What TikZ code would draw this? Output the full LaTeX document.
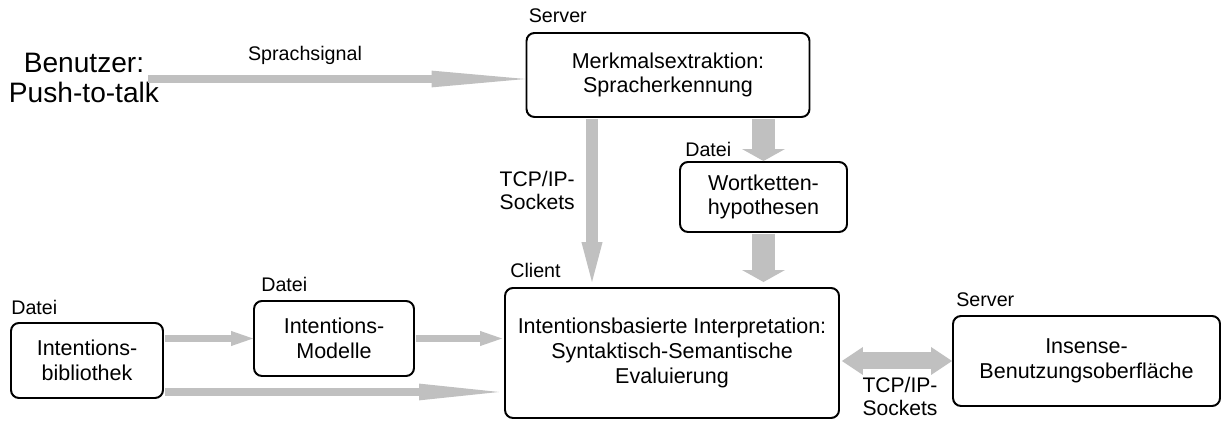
\documentclass[tikz,border=0pt]{standalone}
\usepackage{fontspec}
\setmainfont{Liberation Sans}
\usetikzlibrary{arrows.meta, positioning, calc}
\definecolor{pfeilgrau}{HTML}{C0C0C0}

\begin{document}
\begin{tikzpicture}[
  kasten/.style={draw=black, line width=1.4pt, rounded corners=0.2cm, align=center,
                 inner sep=2pt, font=\fontsize{15.3}{17.5}\selectfont},
  lab/.style={inner sep=0pt, font=\fontsize{14}{16}\selectfont},
  tcplab/.style={inner sep=0pt, align=center, font=\fontsize{15}{16}\selectfont},
  langpfeil/.style={draw=pfeilgrau, line width=0.2cm,
                    -{Triangle[length=#1, width=0.42cm, line width=0pt]}},
  langpfeil/.default=2.35cm,
  kurzpfeil/.style={draw=pfeilgrau, line width=0.175cm,
                    -{Triangle[length=0.55cm, width=0.38cm, line width=0pt]}},
  tcppfeil/.style={draw=pfeilgrau, line width=0.3cm,
                   -{Triangle[length=1.0cm, width=0.53cm, line width=0pt]}},
  dateipfeil/.style={draw=pfeilgrau, line width=0.575cm,
                     -{Triangle[length=0.3cm, width=1.075cm, line width=0pt]}},
  doppelpfeil/.style={draw=pfeilgrau, line width=0.425cm,
                      {Triangle[length=0.525cm, width=0.7cm, line width=0pt]}-{Triangle[length=0.525cm, width=0.7cm, line width=0pt]}}
]
\useasboundingbox (0,0) rectangle (30.625,-10.575);

%--------------------------------------------------------------
% Kaesten
%--------------------------------------------------------------
\node[align=center, inner sep=0pt, font=\fontsize{20}{21.3}\selectfont] (benutzer)
  at (2.1,-1.95) {Benutzer:\\ Push-to-talk};

\node[kasten, minimum width=7.075cm, minimum height=2.1cm] (merkmal) at (16.7,-1.875)
  {Merkmalsextraktion:\\ Spracherkennung};

\node[kasten, minimum width=4.175cm, minimum height=1.75cm] (wort) at (19.0875,-4.925)
  {Wortketten-\\ hypothesen};

\node[kasten, minimum width=8.35cm, minimum height=3.25cm] (client) at (16.8,-8.825)
  {Intentionsbasierte Interpretation:\\ Syntaktisch-Semantische\\ Evaluierung};

\node[kasten, minimum width=6.675cm, minimum height=2.25cm] (insense) at (27.1625,-9.025)
  {Insense-\\ Benutzungsoberfläche};

\node[kasten, minimum width=3.8cm, minimum height=1.875cm] (bib) at (2.175,-9.0125)
  {Intentions-\\ bibliothek};

\node[kasten, minimum width=4.0cm, minimum height=1.875cm] (modelle) at (8.35,-8.4625)
  {Intentions-\\ Modelle};

%--------------------------------------------------------------
% Beschriftungen der Kaesten
%--------------------------------------------------------------
\node[lab, anchor=base west] (srvoben) at ($(merkmal.north west)+(0.075,0.25)$) {Server};
\node[lab, anchor=base west] (dateiwort) at ($(wort.north west)+(0.15,0.125)$) {Datei};
\node[lab, anchor=base west] (clientlab) at ($(client.north west)+(0.15,0.25)$) {Client};
\node[lab, anchor=base west] (srvrechts) at ($(insense.north west)+(0.1,0.225)$) {Server};
\node[lab, anchor=base west] (dateibib) at ($(bib.north west)+(0.025,0.2)$) {Datei};
\node[lab, anchor=base west] (dateimod) at ($(modelle.north west)+(0.2,0.225)$) {Datei};

%--------------------------------------------------------------
% Pfeile
%--------------------------------------------------------------
\coordinate (sprachstart) at (3.7,-1.975);
\draw[langpfeil] (sprachstart) -- (sprachstart -| merkmal.west);
\node[lab, anchor=base] (sprachlab) at (7.625,-1.525) {Sprachsignal};

\draw[tcppfeil, shorten <=0.7pt, shorten >=0.125cm] (14.8,0 |- merkmal.south) -- (14.8,0 |- client.north);
\node[tcplab, anchor=east] (tcpoben) at (14.375,-4.7625) {TCP/IP-\\ Sockets};

\draw[dateipfeil, shorten <=0.7pt] (merkmal.south -| wort.north) -- (wort.north);
\draw[dateipfeil, shorten <=0.7pt, shorten >=0.125cm] (wort.south) -- (wort.south |- client.north);

\draw[kurzpfeil, shorten <=0.7pt] (bib.east |- modelle.west) -- (modelle.west);
\draw[kurzpfeil, shorten <=0.7pt, shorten >=0.05cm] (modelle.east) -- (modelle.east -| client.west);

\coordinate (bibaus) at ($(bib.south east)+(0,0.175)$);
\draw[langpfeil=2.0cm, shorten <=0.7pt, shorten >=0.125cm] (bibaus) -- (bibaus -| client.west);

\draw[doppelpfeil, shorten <=0.05cm] (client.east |- insense.west) -- (insense.west);
\node[tcplab] (tcpunten) at (22.5,-9.91) {TCP/IP-\\ Sockets};

\end{tikzpicture}
\end{document}
